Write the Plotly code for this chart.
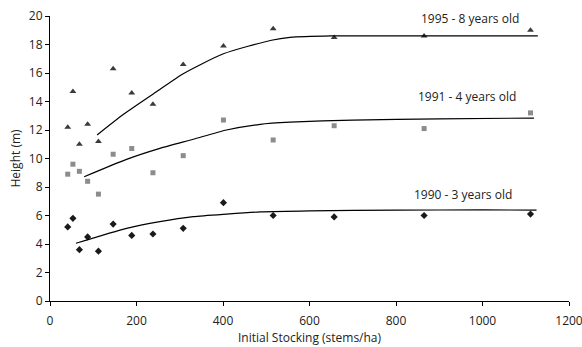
import plotly.graph_objects as go

# Observed data
stocking = [41, 53, 68, 87, 112, 146, 189, 238, 308, 401, 516, 657, 865, 1111]
h1995 = [12.2, 14.7, 11.0, 12.4, 11.2, 16.3, 14.6, 13.8, 16.6, 17.9, 19.1, 18.5, 18.6, 19.0]
h1991 = [8.9, 9.6, 9.1, 8.4, 7.5, 10.3, 10.7, 9.0, 10.2, 12.7, 11.3, 12.3, 12.1, 13.2]
h1990 = [5.2, 5.8, 3.6, 4.5, 3.5, 5.4, 4.6, 4.7, 5.1, 6.9, 6.0, 5.9, 6.0, 6.1]

# Fitted curves
fit1995_x = [109, 170, 247, 308, 401, 512, 555, 650, 800, 1128]
fit1995_y = [11.65, 13.1, 14.7, 15.95, 17.35, 18.3, 18.5, 18.6, 18.6, 18.6]
fit1991_x = [79, 177, 254, 331, 408, 486, 555, 700, 900, 1119]
fit1991_y = [8.72, 9.94, 10.71, 11.35, 12.0, 12.4, 12.55, 12.7, 12.78, 12.84]
fit1990_x = [60, 177, 254, 331, 408, 486, 600, 800, 1000, 1125]
fit1990_y = [4.05, 5.1, 5.57, 5.92, 6.1, 6.25, 6.33, 6.38, 6.39, 6.38]

labels = ["1995 - 8 years old", "1991 - 4 years old", "1990 - 3 years old"]
label_x = [971, 963, 954]
label_y = [19.84, 14.34, 7.49]

x_title = "Initial Stocking (stems/ha)"
y_title = "Height (m)"

font = "Open Sans, Lato, sans-serif"
fig = go.Figure()

fig.add_trace(go.Scatter(x=stocking, y=h1995, mode="markers",
                         marker=dict(symbol="triangle-up", size=6, color="#3a3a3a")))
fig.add_trace(go.Scatter(x=stocking, y=h1991, mode="markers",
                         marker=dict(symbol="square", size=5, color="#8c8c8c")))
fig.add_trace(go.Scatter(x=stocking, y=h1990, mode="markers",
                         marker=dict(symbol="diamond", size=5.5, color="#1a1a1a")))

for fx, fy in [(fit1995_x, fit1995_y), (fit1991_x, fit1991_y), (fit1990_x, fit1990_y)]:
    fig.add_trace(go.Scatter(x=fx, y=fy, mode="lines",
                             line=dict(color="black", width=1.2, shape="spline", smoothing=0.6)))

for t, xx, yy in zip(labels, label_x, label_y):
    fig.add_annotation(x=xx, y=yy, text=t, showarrow=False,
                       font=dict(family=font, size=12, color="#222"))

# axis titles
fig.add_annotation(x=0.5, y=0, xref="paper", yref="paper", xanchor="center", yanchor="middle",
                   yshift=-36, text=x_title, borderpad=0,
                   showarrow=False, font=dict(family=font, size=12, color="#222"))
fig.add_annotation(x=0, y=0.5, xref="paper", yref="paper", xanchor="center", yanchor="middle",
                   xshift=-35, text=y_title,
                   textangle=-90, showarrow=False, font=dict(family=font, size=12, color="#222"))

axis_common = dict(showline=True, linecolor="black", linewidth=1.2, ticks="outside",
                   ticklen=4, tickcolor="black", showgrid=False, zeroline=False,
                   automargin=False, ticklabeloverflow="allow",
                   tickfont=dict(family=font, size=12, color="#222"))

fig.update_layout(
    width=582, height=347, showlegend=False, hovermode=False,
    plot_bgcolor="white", paper_bgcolor="white",
    margin=dict(l=50, r=13, t=16, b=46),
    xaxis=dict(range=[0, 1200], tickvals=[0, 200, 400, 600, 800, 1000, 1200],
               ticklabelstandoff=4, **axis_common),
    yaxis=dict(range=[0, 20], tickvals=list(range(0, 21, 2)), **axis_common),
)

fig.write_html("out.html", config={"displayModeBar": False},
               post_script="document.body.style.margin='0';document.body.style.overflow='hidden';")
